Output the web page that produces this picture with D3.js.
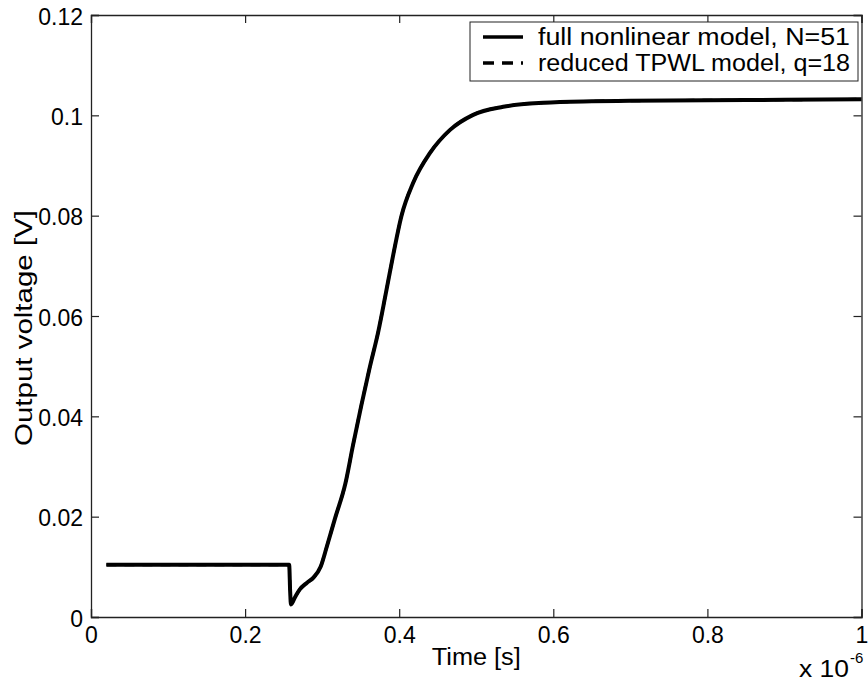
<!DOCTYPE html>
<html>
<head>
<meta charset="utf-8">
<script src="https://cdn.jsdelivr.net/npm/d3@7/dist/d3.min.js"></script>
<style>
  html, body { margin: 0; padding: 0; background: #fff; }
  svg text { font-family: "Liberation Sans", Arial, Helvetica, sans-serif; fill: #000; }
</style>
</head>
<body>
<div id="chart"></div>
<script>
'use strict';

// time in units of 1e-6 s
var fullTime = [0.02, 0.1, 0.2, 0.2572, 0.2585, 0.2595, 0.265, 0.271, 0.28, 0.289, 0.298, 0.306, 0.317,
    0.330, 0.340, 0.351, 0.362, 0.373, 0.382, 0.392, 0.403, 0.418, 0.440, 0.466, 0.496, 0.535,
    0.587, 0.65, 0.7, 0.8, 0.9, 1.0];
var fullVolt = [0.0104, 0.0104, 0.0104, 0.0104, 0.0050, 0.0025, 0.0040, 0.0055, 0.0068, 0.0079, 0.0100, 0.0140, 0.0198,
    0.0265, 0.0342, 0.0423, 0.0499, 0.0570, 0.0640, 0.0720, 0.0800, 0.0865, 0.0925, 0.0971, 0.1001, 0.1017,
    0.1025, 0.1028, 0.1029, 0.1030, 0.1031, 0.1032];

var tpwlTime = [0.02, 0.1, 0.2, 0.2572, 0.2585, 0.2595, 0.265, 0.271, 0.28, 0.289, 0.298, 0.306, 0.317,
    0.330, 0.340, 0.351, 0.362, 0.373, 0.382, 0.392, 0.403, 0.418, 0.440, 0.466, 0.496, 0.535,
    0.587, 0.65, 0.7, 0.8, 0.9, 1.0];
var tpwlVolt = [0.0104, 0.0104, 0.0104, 0.0104, 0.0050, 0.0025, 0.0040, 0.0055, 0.0068, 0.0079, 0.0100, 0.0140, 0.0198,
    0.0265, 0.0342, 0.0423, 0.0499, 0.0570, 0.0640, 0.0720, 0.0800, 0.0865, 0.0925, 0.0971, 0.1001, 0.1017,
    0.1025, 0.1028, 0.1029, 0.1030, 0.1031, 0.1032];

var xTicks = [0, 0.2, 0.4, 0.6, 0.8, 1];
var yTicks = [0, 0.02, 0.04, 0.06, 0.08, 0.1, 0.12];
var legendLabels = ['full nonlinear model, N=51', 'reduced TPWL model, q=18'];

var W = 868, H = 683;
var mLeft = 91, mRight = 861.5, mTop = 15, mBottom = 617;

var svg = d3.select('#chart')
    .append('svg')
    .attr('width', W)
    .attr('height', H);

var x = d3.scaleLinear().domain([0, 1]).range([mLeft, mRight]);
var y = d3.scaleLinear().domain([0, 0.12]).range([mBottom, mTop]);

// axes (ticks inward, MATLAB style)
var fmt = function(d) { return String(+d.toFixed(2)); };

var gx = svg.append('g')
    .attr('transform', 'translate(0,' + mBottom + ')')
    .call(d3.axisBottom(x).tickValues(xTicks).tickSize(-8).tickPadding(10).tickFormat(fmt));
var gy = svg.append('g')
    .attr('transform', 'translate(' + mLeft + ',0)')
    .call(d3.axisLeft(y).tickValues(yTicks).tickSize(-8).tickPadding(8).tickFormat(fmt));
var gt = svg.append('g')
    .attr('transform', 'translate(0,' + mTop + ')')
    .call(d3.axisTop(x).tickValues(xTicks).tickSize(-8).tickFormat(''));
var gr = svg.append('g')
    .attr('transform', 'translate(' + mRight + ',0)')
    .call(d3.axisRight(y).tickValues(yTicks).tickSize(-8).tickFormat(''));

[gx, gy, gt, gr].forEach(function(g) {
    g.select('.domain').attr('stroke', '#222').attr('stroke-width', 1.3);
    g.selectAll('.tick line').attr('stroke', '#222').attr('stroke-width', 1.2);
    g.selectAll('.tick text')
        .style('font-size', '23px')
        .attr('fill', '#000');
});
gx.selectAll('.tick text').attr('dy', '0.71em');
gy.selectAll('.tick text').attr('dy', '0.4em');

// curves
var line = d3.line()
    .x(function(d) { return x(d[0]); })
    .y(function(d) { return y(d[1]); })
    .curve(d3.curveMonotoneX);

var tpwl = tpwlTime.map(function(t, i) { return [t, tpwlVolt[i]]; });
var full = fullTime.map(function(t, i) { return [t, fullVolt[i]]; });

svg.append('path')
    .datum(tpwl)
    .attr('d', line)
    .attr('fill', 'none')
    .attr('stroke', '#000')
    .attr('stroke-width', 3)
    .attr('stroke-dasharray', '10,8');

svg.append('path')
    .datum(full)
    .attr('d', line)
    .attr('fill', 'none')
    .attr('stroke', '#000')
    .attr('stroke-width', 4)
    .attr('stroke-linejoin', 'round');

// axis labels
svg.append('text')
    .attr('x', (mLeft + mRight) / 2)
    .attr('y', 665)
    .attr('text-anchor', 'middle')
    .attr('textLength', 89)
    .attr('lengthAdjust', 'spacingAndGlyphs')
    .style('font-size', '23px')
    .text('Time [s]');

svg.append('text')
    .attr('transform', 'translate(32,328) rotate(-90)')
    .attr('text-anchor', 'middle')
    .attr('textLength', 236)
    .attr('lengthAdjust', 'spacingAndGlyphs')
    .style('font-size', '23px')
    .text('Output voltage [V]');

svg.append('text')
    .attr('x', 799)
    .attr('y', 677)
    .attr('textLength', 50)
    .attr('lengthAdjust', 'spacingAndGlyphs')
    .style('font-size', '23px')
    .text('x 10');
svg.append('text')
    .attr('x', 850)
    .attr('y', 663)
    .style('font-size', '15px')
    .text('-6');

// legend
var lg = svg.append('g');
lg.append('rect')
    .attr('x', 470).attr('y', 22)
    .attr('width', 388).attr('height', 59)
    .attr('fill', '#fff')
    .attr('stroke', '#222')
    .attr('stroke-width', 1);

lg.selectAll('line.sample')
    .data(legendLabels)
    .enter().append('line')
    .attr('class', 'sample')
    .attr('x1', 483).attr('x2', 523)
    .attr('y1', function(d, i) { return 37 + i * 26; })
    .attr('y2', function(d, i) { return 37 + i * 26; })
    .attr('stroke', '#000')
    .attr('stroke-width', 3.5)
    .attr('stroke-dasharray', function(d, i) { return i === 0 ? null : '11,8'; });

lg.selectAll('text.lab')
    .data(legendLabels)
    .enter().append('text')
    .attr('class', 'lab')
    .attr('x', 538)
    .attr('y', function(d, i) { return 45 + i * 26; })
    .attr('textLength', 312)
    .attr('lengthAdjust', 'spacingAndGlyphs')
    .style('font-size', '23px')
    .text(function(d) { return d; });
</script>
</body>
</html>
